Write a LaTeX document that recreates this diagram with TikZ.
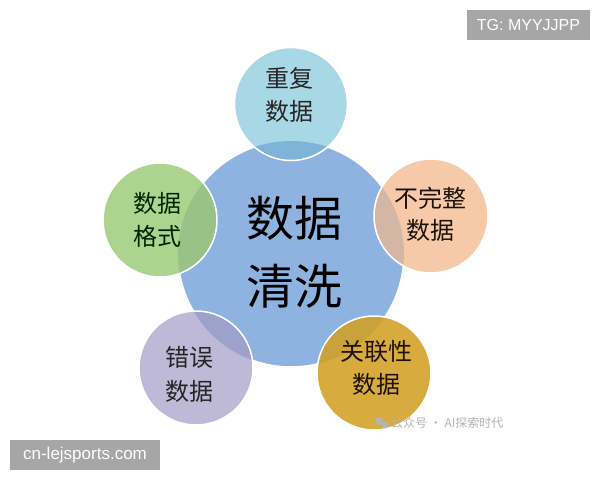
\documentclass[tikz,border=0pt]{standalone}
\usepackage{fontspec}
\setmainfont{Liberation Sans}
\newfontfamily\cjk{Noto Sans CJK SC}
\definecolor{cmain}{HTML}{8FB3E0}
\definecolor{ctop}{HTML}{A8D8E5}
\definecolor{ctopov}{HTML}{7DB4D8}
\definecolor{cleft}{HTML}{ADD48F}
\definecolor{cleftov}{HTML}{98C287}
\definecolor{cright}{HTML}{F6CAA9}
\definecolor{crightov}{HTML}{D3B6A3}
\definecolor{cbl}{HTML}{BDB9D7}
\definecolor{cblov}{HTML}{9CA2CC}
\definecolor{cbr}{HTML}{D7AB3E}
\definecolor{cbrov}{HTML}{C9A23B}
\definecolor{wm}{HTML}{A6A6A6}
\definecolor{wmtext}{HTML}{B4B4B4}
\begin{document}
\begin{tikzpicture}[x=1pt,y=-1pt,
  bigtxt/.style={font=\cjk\fontsize{48}{52}\selectfont, text=black},
  smalltxt/.style={font=\cjk\fontsize{24}{26}\selectfont, inner sep=0pt},
  wmbox/.style={fill=wm, text=white, inner sep=0pt, font=\fontsize{16}{18}\selectfont},
  ring/.style={draw=white, line width=1.5pt}]
\useasboundingbox (0,0) rectangle (600,480);
\fill[white] (0,0) rectangle (600,480);
% circle centres
\coordinate (cc) at (291,254);
\coordinate (ct) at (291,104);
\coordinate (cl) at (160,220);
\coordinate (cr) at (431,216);
\coordinate (cbl) at (196,368);
\coordinate (cbr) at (374,373);
% central circle
\fill[cmain] (cc) circle (113pt);
\draw[ring] (cc) circle (113pt);
% small circles
\fill[ctop] (ct) circle (56.5pt);
\fill[cleft] (cl) circle (57pt);
\fill[cright] (cr) circle (57pt);
\fill[cbl] (cbl) circle (57pt);
\fill[cbr] (cbr) circle (57pt);
% overlaps
\begin{scope}
\clip (cc) circle (113pt);
\fill[ctopov] (ct) circle (56.5pt);
\fill[cleftov] (cl) circle (57pt);
\fill[crightov] (cr) circle (57pt);
\fill[cblov] (cbl) circle (57pt);
\fill[cbrov] (cbr) circle (57pt);
\end{scope}
\draw[ring] (ct) circle (56.5pt);
\draw[ring] (cl) circle (57pt);
\draw[ring] (cr) circle (57pt);
\draw[ring] (cbl) circle (57pt);
\draw[ring] (cbr) circle (57pt);
% central text
\node[bigtxt] (m1) at (294,218) {数据};
\node[bigtxt] (m2) at (294,286) {清洗};
% small texts
\node[smalltxt, text=black!85] (t1) at (289,78) {重复};
\node[smalltxt, text=black!85] (t2) at (289,111) {数据};
\node[smalltxt, text=black!85!green] (l1) at (157,203) {数据};
\node[smalltxt, text=black!85!green] (l2) at (157,236) {格式};
\node[smalltxt, text=black!85!brown] (r1) at (430,198) {不完整};
\node[smalltxt, text=black!85!brown] (r2) at (430,230) {数据};
\node[smalltxt, text=black!85] (b1) at (189,357) {错误};
\node[smalltxt, text=black!85] (b2) at (189,391) {数据};
\node[smalltxt, text=black!85!brown] (e1) at (376,351) {关联性};
\node[smalltxt, text=black!85!brown] (e2) at (376,384) {数据};
% faint watermark
\fill[wmtext] (379,421) circle (4pt);
\fill[wmtext] (385,425) circle (3.5pt);
\node[anchor=west, text=wmtext, inner sep=0pt, font=\cjk\fontsize{12}{14}\selectfont] (wx) at (391,423) {公众号 · AI探索时代};
% watermark boxes
\node[wmbox, minimum width=123pt, minimum height=30pt] (tg) at (528.5,25) {TG: MYYJJPP};
\node[wmbox, minimum width=150pt, minimum height=30pt, font=\fontsize{17}{19}\selectfont] (cn) at (85,455) {cn-lejsports.com};
\end{tikzpicture}
\end{document}
